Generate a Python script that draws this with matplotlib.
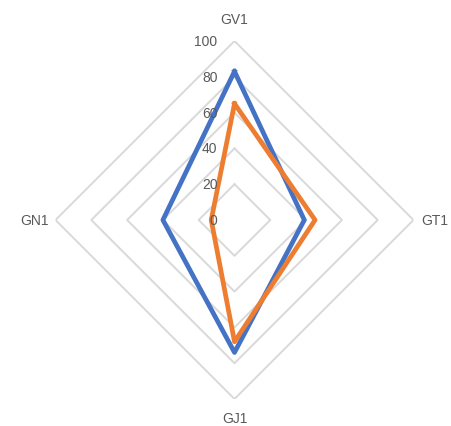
import numpy as np
import matplotlib
matplotlib.use("Agg")
import matplotlib.pyplot as plt

categories = ["GV1", "GT1", "GJ1", "GN1"]
series_blue = [83, 39, 74, 40]
series_orange = [65, 45, 68, 13]
r_ticks = [0, 20, 40, 60, 80, 100]

plt.rcParams["font.family"] = ["Liberation Sans", "DejaVu Sans"]

W, H = 451, 427
fig = plt.figure(figsize=(W / 100, H / 100), dpi=100)
cx, cy, R = 234.5, 221.0, 179.0
ax = fig.add_axes([(cx - R) / W, (H - cy - R) / H, 2 * R / W, 2 * R / H],
                  projection="polar")
ax.set_theta_zero_location("N")
ax.set_theta_direction(-1)
ax.set_ylim(0, 100)
ax.grid(False)
ax.spines["polar"].set_visible(False)
ax.set_xticks([])
ax.set_yticks([])
ax.patch.set_visible(False)

n = len(categories)
theta = np.linspace(0, 2 * np.pi, n, endpoint=False)
theta_c = np.append(theta, theta[0])

grid_col = "#D9D9D9"
for r in r_ticks[1:]:
    ax.plot(theta_c, [r] * (n + 1), color=grid_col, lw=1.4, zorder=1)

def closed(v):
    return list(v) + [v[0]]

ax.plot(theta_c, closed(series_blue), color="#4472C4", lw=3.4, zorder=3)
ax.plot(theta_c, closed(series_orange), color="#ED7D31", lw=3.4, zorder=4)

txt_col = "#595959"
for r in r_ticks:
    ax.annotate(str(r), xy=(0, r), xytext=(-17, 0), textcoords="offset pixels",
                ha="right", va="center", fontsize=10, color=txt_col, zorder=5,
                annotation_clip=False)

offsets = [(0, 15), (8, 0), (0, -23), (-7, 0)]
aligns = [("center", "bottom"), ("left", "center"), ("center", "baseline"), ("right", "center")]
for t, lab, off, (ha, va) in zip(theta, categories, offsets, aligns):
    ax.annotate(lab, xy=(t, 100), xytext=off, textcoords="offset pixels",
                ha=ha, va=va, fontsize=10, color=txt_col, annotation_clip=False)

fig.savefig("out.png", dpi=100)
